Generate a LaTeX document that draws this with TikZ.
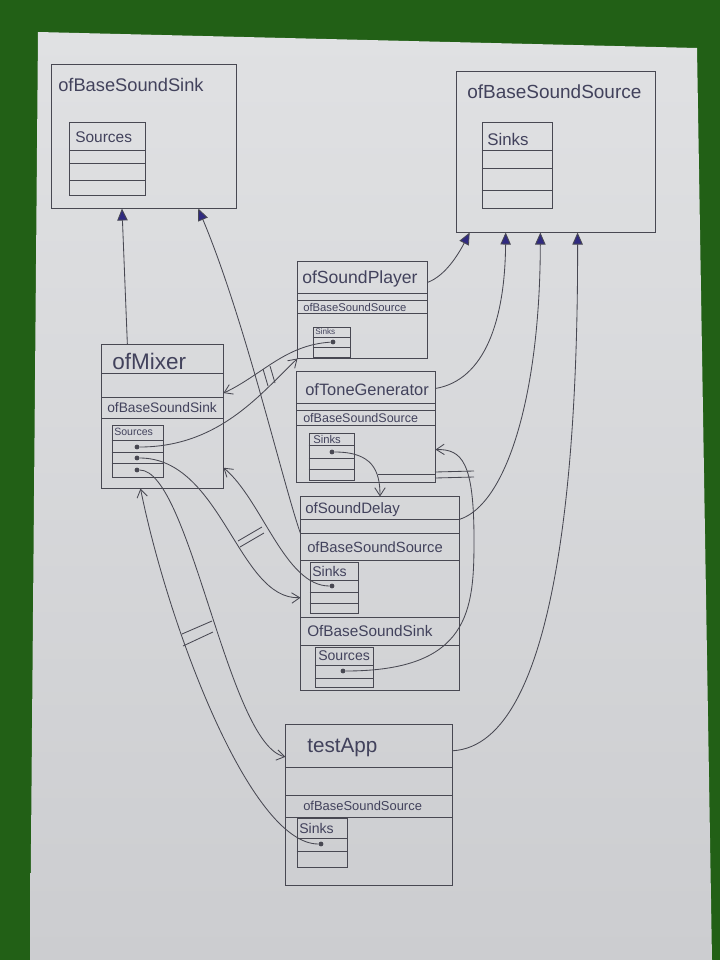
\documentclass[tikz,border=0pt]{standalone}
\usepackage{fontspec}
\setmainfont{Liberation Sans}
\usetikzlibrary{arrows.meta,calc}

\definecolor{board}{RGB}{34,96,22}
\definecolor{paperhi}{RGB}{224,225,227}
\definecolor{paperlo}{RGB}{204,205,208}
\definecolor{pen}{RGB}{72,72,82}
\definecolor{ink}{RGB}{66,66,92}
\definecolor{navy}{RGB}{48,42,128}

\newcommand{\fs}[1]{\fontsize{#1}{#1}\selectfont}
\newcommand{\rowline}[2]{\draw[pen, line width=0.7pt] (#1.west |- 0,#2) -- (#1.east |- 0,#2);}

\tikzset{
  box/.style={draw=pen, line width=0.7pt, rectangle, inner sep=0pt},
  txt/.style={anchor=west, inner sep=0pt, text=ink},
  dot/.style={circle, fill=pen, inner sep=0pt, minimum size=1.2mm},
  link/.style={draw=pen, line width=0.6pt, -{Straight Barb[length=2mm,width=2.6mm]}},
  inherit/.style={draw=pen, line width=0.6pt, -{Triangle[length=3mm,width=2.6mm,fill=navy]}},
  rung/.style={draw=pen, line width=0.6pt}
}

\begin{document}
\begin{tikzpicture}[x=0.025cm, y=-0.025cm]
        \useasboundingbox (0,0) rectangle (720,960);
        %BOARD AND PAPER
        \fill[board] (0,0) rectangle (720,960);
        \shade[top color=paperhi, bottom color=paperlo] (38,32) -- (697,48) -- (712,960) -- (30,960) -- cycle;

        %OFBASESOUNDSINK
        \node[box, minimum width=4.6cm, minimum height=3.575cm] (bsink) at (144,136.5) {};
        \node[txt, font=\fs{13}] (bsinkname) at (58,85) {ofBaseSoundSink};
        \node[box, minimum width=1.875cm, minimum height=1.825cm] (bsinklist) at (107.5,158.5) {};
        \node[txt, font=\fs{11}] (bsinksrc) at (75,137) {Sources};
        \foreach \y in {150,163,180} {\rowline{bsinklist}{\y}}

        %OFBASESOUNDSOURCE
        \node[box, minimum width=4.95cm, minimum height=4cm] (bsource) at (556,152) {};
        \node[txt, font=\fs{13.5}] (bsourcename) at (467,92) {ofBaseSoundSource};
        \node[box, minimum width=1.75cm, minimum height=2.125cm] (bsourcelist) at (517,165.5) {};
        \node[txt, font=\fs{12}] (bsourcesnk) at (487,139) {Sinks};
        \foreach \y in {150,168,190} {\rowline{bsourcelist}{\y}}

        %OFSOUNDPLAYER
        \node[box, minimum width=3.225cm, minimum height=2.4cm] (player) at (362.5,310) {};
        \node[txt, font=\fs{12.5}] (playername) at (302,279) {ofSoundPlayer};
        \foreach \y in {293,300,313} {\rowline{player}{\y}}
        \node[txt, font=\fs{8}] (playerbase) at (303,307) {ofBaseSoundSource};
        \node[box, minimum width=0.925cm, minimum height=0.75cm] (playerlist) at (331.5,342) {};
        \node[txt, font=\fs{5.8}] (playersnk) at (315,332) {Sinks};
        \foreach \y in {337,347} {\rowline{playerlist}{\y}}
        \node[dot] (playerdot) at (333,342) {};

        %OFMIXER
        \node[box, minimum width=3.025cm, minimum height=3.575cm] (mixer) at (162.5,416.5) {};
        \node[txt, font=\fs{16}] (mixername) at (112,361) {ofMixer};
        \foreach \y in {373,397,418} {\rowline{mixer}{\y}}
        \node[txt, font=\fs{9.8}] (mixerbase) at (107,408) {ofBaseSoundSink};
        \node[box, minimum width=1.275cm, minimum height=1.3cm] (mixerlist) at (137.5,451) {};
        \node[txt, font=\fs{7.5}] (mixersrc) at (114,432) {Sources};
        \foreach \y in {440,452,463} {\rowline{mixerlist}{\y}}
        \node[dot] (mixdotA) at (137,447) {};
        \node[dot] (mixdotB) at (137,458) {};
        \node[dot] (mixdotC) at (137,470) {};

        %OFTONEGENERATOR
        \node[box, minimum width=3.45cm, minimum height=2.75cm] (tone) at (366,427) {};
        \node[txt, font=\fs{11.7}] (tonename) at (305,390) {ofToneGenerator};
        \foreach \y in {403,410,425} {\rowline{tone}{\y}}
        \node[txt, font=\fs{8.9}] (tonebase) at (303,418) {ofBaseSoundSource};
        \node[box, minimum width=1.125cm, minimum height=1.175cm] (tonelist) at (331.5,456.5) {};
        \node[txt, font=\fs{8}] (tonesnk) at (313,439) {Sinks};
        \foreach \y in {445,458,469} {\rowline{tonelist}{\y}}
        \node[dot] (tonedot) at (332,452) {};
        \draw[pen, line width=0.7pt] (378,474) -- (tone.east |- 0,474);

        %OFSOUNDDELAY
        \node[box, minimum width=3.95cm, minimum height=4.825cm] (delay) at (380,593.5) {};
        \node[txt, font=\fs{10.7}] (delayname) at (305,510) {ofSoundDelay};
        \foreach \y in {519,533,560,617,645} {\rowline{delay}{\y}}
        \node[txt, font=\fs{10.5}] (delaybase) at (307,547) {ofBaseSoundSource};
        \node[box, minimum width=1.2cm, minimum height=1.275cm] (delaylist) at (334,587.5) {};
        \node[txt, font=\fs{10}] (delaysnk) at (312,571) {Sinks};
        \foreach \y in {580,592,603} {\rowline{delaylist}{\y}}
        \node[dot] (delaydot) at (332,586) {};
        \node[txt, font=\fs{10.9}] (delaysinkbase) at (307,631) {OfBaseSoundSink};
        \node[box, minimum width=1.45cm, minimum height=1cm] (srclist) at (344,667) {};
        \node[txt, font=\fs{10}] (delaysrc) at (318,656) {Sources};
        \foreach \y in {665,678} {\rowline{srclist}{\y}}
        \node[dot] (srcdot) at (343,671) {};

        %TESTAPP
        \node[box, minimum width=4.15cm, minimum height=4cm] (testapp) at (369,805) {};
        \node[txt, font=\fs{14.7}] (appname) at (307,748) {testApp};
        \foreach \y in {767,795,817} {\rowline{testapp}{\y}}
        \node[txt, font=\fs{9.2}] (appbase) at (303,806) {ofBaseSoundSource};
        \node[box, minimum width=1.25cm, minimum height=1.225cm] (applist) at (322,842.5) {};
        \node[txt, font=\fs{10}] (appsnk) at (299,828) {Sinks};
        \foreach \y in {838,851} {\rowline{applist}{\y}}
        \node[dot] (appdot) at (321,844) {};

        %INHERITANCE
        \draw[inherit] (mixer.116) -- (bsink.-107);
        \draw[inherit] (delay.143) .. controls (282,480) and (245,320) .. (bsink.-53);
        \draw[inherit] (player.23) .. controls (445,276) and (458,255) .. (bsource.-137);
        \draw[inherit] (tone.29) .. controls (485,380) and (505,320) .. (bsource.-122);
        \draw[inherit] (delay.43) .. controls (505,505) and (540,400) .. (bsource.-101);
        \draw[inherit] (testapp.33) .. controls (560,745) and (578,450) .. (bsource.-75);

        %CONNECTIONS
        \draw[link] (mixdotA) .. controls (220,447) and (262,392) .. (player.south west);
        \draw[link] (playerdot) .. controls (285,345) and (262,375) .. (mixer.21);
        \draw[link] (tonedot) .. controls (372,452) and (380,470) .. (delay.north);
        \draw[link] (delaydot) .. controls (285,586) and (262,500) .. (mixer.-40);
        \draw[link] (mixdotB) .. controls (222,458) and (238,600) .. (delay.-177);
        \draw[link] (mixdotC) .. controls (190,470) and (228,745) .. (testapp.150);
        \draw[link] (appdot) .. controls (250,844) and (168,625) .. (mixer.-107);
        \draw[link] (srcdot) .. controls (470,671) and (474,610) .. (474,540) .. controls (474,462) and (462,449) .. (tone.-18);

        %PAIR MARKS
        \draw[rung] (263,369) -- (268,386);
        \draw[rung] (270,366) -- (275,383);
        \draw[rung] (238,541) -- (262,527);
        \draw[rung] (240,547) -- (264,533);
        \draw[rung] (182,634) -- (212,621);
        \draw[rung] (183,646) -- (213,632);
        \draw[rung] (435,472) -- (474,471);
        \draw[rung] (435,478) -- (474,477);
\end{tikzpicture}
\end{document}
